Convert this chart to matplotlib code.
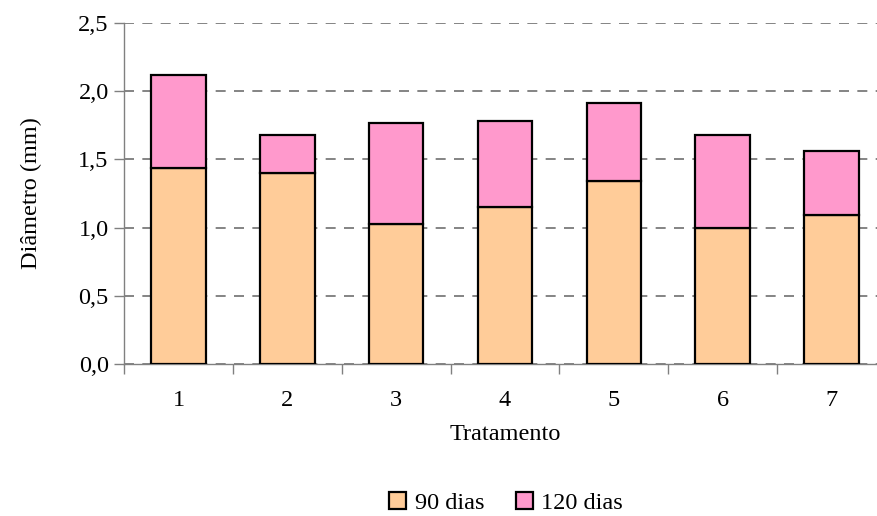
import matplotlib
matplotlib.use("Agg")
import matplotlib.pyplot as plt
from matplotlib.ticker import FixedLocator

plt.rcParams['font.family'] = ['Liberation Serif', 'DejaVu Serif']

tratamentos = ["1", "2", "3", "4", "5", "6", "7"]
dias_90 = [1.44, 1.40, 1.03, 1.15, 1.34, 1.00, 1.09]
dias_120 = [0.68, 0.28, 0.74, 0.63, 0.57, 0.68, 0.47]
y_ticks = [0.0, 0.5, 1.0, 1.5, 2.0, 2.5]
y_labels = ["0,0", "0,5", "1,0", "1,5", "2,0", "2,5"]

cor_90 = "#FFCC99"
cor_120 = "#FF99CC"
fs = 17.5

fig = plt.figure(figsize=(8.77, 5.16), dpi=100)
ax = fig.add_axes([124 / 877, 152 / 516, 762 / 877, 341 / 516])

x = list(range(1, len(tratamentos) + 1))
ax.bar(x, dias_90, width=0.5, color=cor_90, edgecolor="black", linewidth=1.6,
       label="90 dias", zorder=3)
ax.bar(x, dias_120, width=0.5, bottom=dias_90, color=cor_120, edgecolor="black",
       linewidth=1.6, label="120 dias", zorder=3)

ax.set_xlim(0.5, len(tratamentos) + 0.5)
ax.set_ylim(0, 2.5)

ax.set_yticks(y_ticks)
ax.set_yticklabels(y_labels, fontsize=fs)
ax.set_xticks(x)
ax.set_xticklabels(tratamentos, fontsize=fs)
ax.xaxis.set_minor_locator(FixedLocator([i + 0.5 for i in range(0, len(tratamentos) + 1)]))
ax.tick_params(axis="x", which="major", length=0, pad=19)
ax.tick_params(axis="x", which="minor", length=7, width=1, color="#808080", direction="out")
ax.tick_params(axis="y", which="major", length=7, width=1, color="#808080", direction="out", pad=4)

ax.grid(axis="y", color="#707070", linestyle=(0, (6, 5)), linewidth=1.2, zorder=0)

for side in ["top", "right"]:
    ax.spines[side].set_visible(False)
for side in ["left", "bottom"]:
    ax.spines[side].set_color("#808080")
    ax.spines[side].set_linewidth(1)

ax.set_xlabel("Tratamento", fontsize=fs, labelpad=9)
ax.set_ylabel("Diâmetro (mm)", fontsize=fs, labelpad=26)

fig.legend(loc="center", bbox_to_anchor=(506 / 877, 1 - 503 / 516), ncol=2,
           frameon=False, fontsize=fs, handlelength=0.7, handleheight=0.7,
           handletextpad=0.35, columnspacing=1.3, borderpad=0.1)

fig.savefig("out.png", dpi=100)
